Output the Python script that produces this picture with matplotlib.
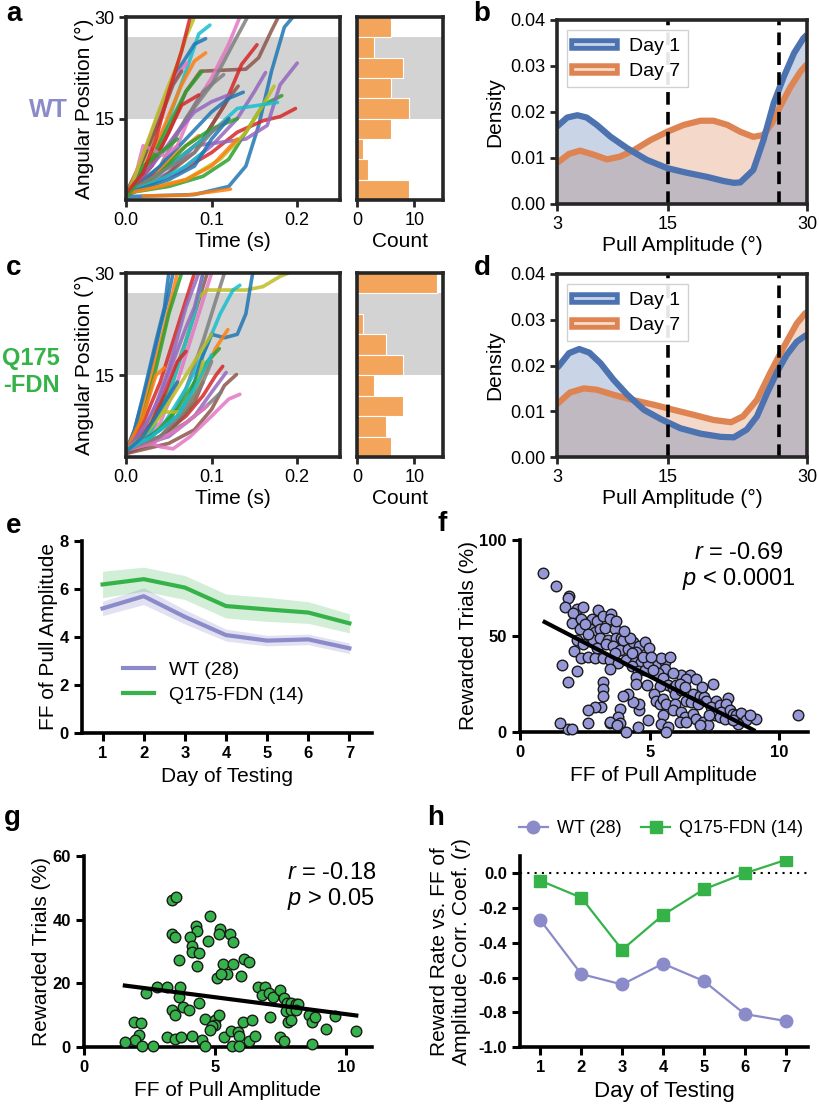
import matplotlib
matplotlib.use("Agg")
import matplotlib.pyplot as plt
from matplotlib.lines import Line2D

plt.rcParams['font.family'] = ['Liberation Sans', 'DejaVu Sans']
plt.rcParams['mathtext.fontset'] = 'custom'
plt.rcParams['mathtext.rm'] = 'Liberation Sans'
plt.rcParams['mathtext.it'] = 'Liberation Sans:italic'

# ---------- data ----------
TAB = ["#1f77b4", "#ff7f0e", "#2ca02c", "#d62728", "#9467bd",
       "#8c564b", "#e377c2", "#7f7f7f", "#bcbd22", "#17becf"]

# panel a: WT pull trajectories, (time s, angle deg)
wt_traces = [
    [(0, 3.5), (0.08, 3.8), (0.12, 5), (0.14, 8), (0.155, 14), (0.17, 22), (0.185, 28.5), (0.195, 30)],
    [(0.02, 3.6), (0.07, 3.7), (0.122, 4.6)],
    [(0, 4), (0.05, 5), (0.09, 6.5), (0.12, 9), (0.14, 13), (0.16, 17), (0.182, 18.4)],
    [(0, 4), (0.06, 7), (0.1, 10), (0.13, 13), (0.16, 14.7), (0.18, 15.3), (0.198, 16.5)],
    [(0, 4), (0.05, 7), (0.08, 11), (0.14, 12), (0.165, 14), (0.18, 20), (0.2, 23.2)],
    [(0, 4), (0.03, 8), (0.05, 13), (0.07, 19), (0.087, 22), (0.14, 22.3), (0.155, 24), (0.17, 28), (0.178, 30)],
    [(0, 3.5), (0.03, 6), (0.06, 11), (0.08, 17), (0.1, 21), (0.12, 26), (0.133, 30)],
    [(0, 3.5), (0.04, 8), (0.07, 15), (0.1, 20), (0.125, 26), (0.142, 30)],
    [(0, 4), (0.02, 8), (0.04, 15), (0.06, 23), (0.07, 27), (0.08, 30)],
    [(0, 3.5), (0.03, 9), (0.05, 15), (0.07, 22), (0.085, 27.5), (0.098, 28.8)],
    [(0, 4), (0.02, 9), (0.04, 16), (0.06, 22), (0.08, 26), (0.093, 26.8)],
    [(0, 3.7), (0.025, 8), (0.045, 14), (0.065, 20), (0.08, 23.5), (0.093, 24.7)],
    [(0, 4), (0.03, 9), (0.05, 14), (0.07, 19), (0.089, 22)],
    [(0, 4), (0.05, 8), (0.09, 12), (0.115, 17), (0.135, 23), (0.153, 25.9)],
    [(0, 4), (0.06, 7), (0.1, 11), (0.13, 15), (0.15, 19), (0.163, 21.8)],
    [(0, 3.6), (0.04, 6), (0.08, 10), (0.105, 15), (0.12, 18), (0.131, 19.8)],
    [(0, 4), (0.015, 8), (0.03, 13), (0.045, 18), (0.06, 21.5), (0.071, 23.2)],
    [(0, 4), (0.02, 7), (0.05, 11), (0.07, 15), (0.09, 19), (0.114, 21.5)],
    [(0, 4), (0.07, 6), (0.11, 9), (0.14, 13), (0.16, 17), (0.173, 19.8)],
    [(0, 3.8), (0.03, 6), (0.07, 10), (0.1, 13), (0.13, 16.5), (0.177, 17.4)],
    [(0, 4), (0.04, 8), (0.07, 12), (0.1, 16), (0.12, 18), (0.137, 18.9)],
    [(0, 3.6), (0.03, 6), (0.06, 10), (0.085, 12.5)],
    [(0, 3.5), (0.04, 7), (0.07, 11), (0.1, 13.5), (0.13, 15)],
    [(0, 3.6), (0.03, 8), (0.05, 13), (0.065, 17), (0.085, 18.5)],
    [(0, 4), (0.03, 8), (0.06, 13), (0.08, 16), (0.1, 17.5), (0.12, 18.5)],
    [(0, 4), (0.02, 9), (0.04, 15), (0.055, 20), (0.065, 22)],
    [(0.01, 6), (0.02, 11), (0.03, 10.5), (0.045, 9.5), (0.06, 11)],
    [(0, 4), (0.04, 7), (0.08, 10), (0.1, 13), (0.12, 15)],
    [(0, 3.5), (0.015, 8), (0.035, 15), (0.05, 20), (0.06, 23)],
    [(0, 4), (0.04, 6), (0.07, 8), (0.09, 10)],
    [(0, 4), (0.05, 6), (0.08, 8), (0.1, 12), (0.12, 15)],
    [(0, 4), (0.04, 5), (0.07, 6), (0.1, 8), (0.13, 12)],
    [(0, 3.4), (0.01, 5), (0.02, 8), (0.04, 10), (0.06, 12)],
    [(0, 4), (0.02, 7), (0.035, 12), (0.05, 19), (0.065, 25), (0.075, 30)],
]

# panel c: Q175-FDN pull trajectories
q175_traces = [
    [(0, 3.5), (0.01, 7), (0.025, 14), (0.04, 22), (0.05, 27), (0.055, 30)],
    [(0, 4), (0.015, 8), (0.03, 15), (0.045, 22), (0.06, 30)],
    [(0, 4), (0.02, 9), (0.035, 16), (0.05, 24), (0.065, 30)],
    [(0, 4), (0.02, 8), (0.04, 14), (0.06, 22), (0.08, 30)],
    [(0, 3.6), (0.03, 9), (0.05, 16), (0.07, 25), (0.085, 30)],
    [(0, 4), (0.03, 8), (0.05, 13), (0.07, 20), (0.085, 26), (0.095, 30)],
    [(0, 3.8), (0.04, 8), (0.06, 14), (0.08, 22), (0.1, 30)],
    [(0, 4), (0.05, 8), (0.07, 13), (0.09, 20), (0.105, 26), (0.115, 30)],
    [(0, 4), (0.03, 7), (0.05, 12), (0.07, 20), (0.085, 26.5), (0.095, 27.5), (0.14, 27.5), (0.16, 28), (0.18, 29.5), (0.19, 30)],
    [(0, 3.5), (0.04, 7), (0.07, 13), (0.09, 18), (0.11, 24), (0.125, 27.5), (0.133, 28.2)],
    [(0, 4), (0.04, 7), (0.06, 9), (0.075, 12), (0.09, 18), (0.1, 21), (0.115, 20.5), (0.13, 21), (0.14, 24), (0.148, 30)],
    [(0, 4), (0.04, 6), (0.07, 10), (0.09, 15), (0.105, 19), (0.119, 21.7)],
    [(0, 3.6), (0.03, 6), (0.06, 10), (0.08, 14), (0.095, 17), (0.109, 18.9)],
    [(0, 4), (0.04, 6), (0.07, 9), (0.09, 12), (0.105, 15), (0.113, 16.3)],
    [(0, 4), (0.05, 6), (0.08, 9), (0.1, 12.5), (0.117, 15.4)],
    [(0, 3.5), (0.05, 5), (0.08, 7), (0.1, 10), (0.115, 13.5), (0.129, 15.1)],
    [(0, 4), (0.02, 5.5), (0.04, 4.5), (0.055, 4.2), (0.075, 6), (0.1, 9), (0.12, 11.5), (0.133, 12.2)],
    [(0, 4), (0.04, 6), (0.07, 8), (0.09, 10), (0.111, 12.5)],
    [(0, 4), (0.02, 6.5), (0.035, 9.6), (0.07, 9.6), (0.08, 12), (0.09, 17)],
    [(0, 4), (0.03, 7), (0.05, 12), (0.065, 18), (0.08, 24), (0.09, 30)],
    [(0, 4), (0.01, 7), (0.02, 12), (0.035, 20), (0.045, 25), (0.05, 30)],
    [(0, 4), (0.02, 9), (0.035, 15), (0.045, 16.1)],
    [(0, 3.7), (0.02, 6), (0.035, 9), (0.045, 12)],
    [(0, 3.8), (0.03, 8), (0.05, 14), (0.06, 17), (0.07, 18.5)],
    [(0, 4), (0.02, 7), (0.04, 12), (0.055, 17), (0.07, 22), (0.08, 25), (0.09, 30)],
    [(0, 3.5), (0.03, 5), (0.06, 8), (0.08, 11), (0.09, 14)],
    [(0, 4), (0.03, 5), (0.06, 7), (0.08, 9), (0.095, 10.5)],
    [(0, 4), (0.04, 6), (0.07, 10), (0.09, 14), (0.1, 17)],
    [(0, 4), (0.02, 6), (0.04, 9), (0.06, 13), (0.08, 17), (0.1, 21)],
    [(0, 4), (0.03, 6), (0.06, 9), (0.08, 13), (0.1, 18)],
    [(0, 3.8), (0.02, 6), (0.04, 10), (0.06, 14)],
]

# histograms of pull amplitude (bins of 3 deg, 3..30)
hist_centers = [28.5, 25.5, 22.5, 19.5, 16.5, 13.5, 10.5, 7.5, 4.5]
wt_counts = [6, 3, 8, 6, 9, 6, 1, 2, 9]
q175_counts = [14, 0, 1, 5, 8, 3, 8, 5, 6]

# panels b/d: density of pull amplitude
b_x1 = [3.0, 3.2, 4.1, 5.2, 6.2, 7.3, 8.8, 10.6, 12.7, 14.9, 17.0, 19.2, 21.0, 22.1, 22.8,
        24.2, 25.3, 26.4, 27.5, 28.6, 29.6, 30.0]
b_y1 = [0.0168, 0.0172, 0.0188, 0.0193, 0.0188, 0.0172, 0.0146, 0.0121, 0.0096, 0.0078, 0.0068,
        0.0059, 0.0050, 0.0046, 0.0047, 0.0074, 0.0139, 0.0219, 0.0277, 0.0328, 0.0360, 0.0368]
b_x7 = [3.0, 3.2, 4.3, 5.5, 7.0, 8.4, 9.8, 11.3, 13.1, 14.9, 16.7, 18.5, 19.9, 21.4, 22.8,
        24.2, 25.3, 26.2, 27.1, 28.2, 29.3, 30.0]
b_y7 = [0.0090, 0.0092, 0.0109, 0.0116, 0.0107, 0.0097, 0.0103, 0.0117, 0.0139, 0.0157, 0.0172,
        0.0181, 0.0181, 0.0172, 0.0157, 0.0146, 0.0150, 0.0175, 0.0212, 0.0254, 0.0288, 0.0304]
d_x1 = [3.0, 3.2, 4.3, 5.4, 6.5, 7.7, 9.1, 10.6, 12.4, 14.2, 16.3, 18.5, 20.7, 22.1, 23.5,
        24.6, 25.7, 26.8, 27.8, 28.9, 29.8, 30.0]
d_y1 = [0.0195, 0.0199, 0.0227, 0.0236, 0.0228, 0.0205, 0.0169, 0.0136, 0.0103, 0.0083, 0.0063,
        0.0051, 0.0044, 0.0043, 0.0060, 0.0089, 0.0140, 0.0187, 0.0223, 0.0252, 0.0265, 0.0267]
d_x7 = [3.0, 3.2, 4.4, 5.9, 7.3, 9.1, 11.3, 13.5, 15.6, 17.8, 19.9, 21.8, 23.1, 24.6, 26.0,
        27.5, 28.9, 29.8, 30.0]
d_y7 = [0.0116, 0.0119, 0.0141, 0.0150, 0.0147, 0.0136, 0.0124, 0.0114, 0.0103, 0.0092, 0.0081,
        0.0076, 0.0089, 0.0125, 0.0183, 0.0241, 0.0292, 0.0314, 0.0316]

# panel e: Fano factor of pull amplitude by day
days = [1, 2, 3, 4, 5, 6, 7]
wt_ff = [5.19, 5.70, 4.84, 4.08, 3.85, 3.90, 3.53]
wt_ff_sem = [0.30, 0.35, 0.30, 0.25, 0.22, 0.22, 0.22]
q_ff = [6.19, 6.41, 6.06, 5.29, 5.15, 5.02, 4.57]
q_ff_sem = [0.55, 0.50, 0.50, 0.50, 0.50, 0.45, 0.40]

# panel f: WT reward vs FF
f_x = [0.9, 1.37, 1.9, 1.85, 1.73, 2.18, 2.44, 2.05, 2.0, 2.37, 2.3, 2.18, 2.1, 2.37, 2.63, 2.88,
       2.2, 1.63, 1.86, 2.76, 3.0, 2.95, 3.2, 3.5, 3.46, 2.69, 2.88, 3.08, 3.27, 3.65, 2.82, 3.08,
       3.4, 3.7, 3.9, 2.95, 3.33, 3.6, 3.85, 3.18, 3.46, 3.78, 3.46, 4.1, 4.17, 4.36, 4.6, 4.49,
       4.8, 4.96, 4.42, 4.68, 4.3, 4.55, 4.8, 4.49, 4.49, 4.9, 4.94, 5.3, 5.58, 5.45, 5.8, 5.58,
       5.3, 5.5, 5.7, 5.38, 5.9, 6.0, 6.2, 6.54, 6.4, 6.8, 5.96, 6.2, 6.67, 6.92, 7.1, 6.4,
       6.6, 7.44, 7.18, 7.56, 8.0, 7.37, 7.7, 7.95, 7.76, 8.1, 7.5, 7.7, 7.9, 8.2, 8.33, 8.5,
       8.7, 9.1, 8.4, 10.7, 5.15, 5.26, 5.38, 5.5, 5.64, 5.96, 5.9, 6.2, 6.35, 6.67, 6.8, 7.05,
       7.24, 6.92, 6.15, 6.4, 5.5, 5.45, 5.7, 5.64, 4.94, 4.55, 4.6, 4.6, 4.36, 4.17, 3.97, 3.85,
       3.78, 3.85, 3.46, 4.1, 3.2, 3.2, 3.2, 3.14, 2.88, 2.63, 2.63, 1.86, 2.0, 1.54, 3.46, 3.72,
       2.5, 2.63, 2.44, 3.7, 3.97, 4.23, 4.0, 3.65, 4.3, 4.74, 5.06, 5.13, 5.9, 6.15, 6.35, 7.0,
       6.86, 7.3, 8.2, 8.85]
f_y = [83, 76, 71, 70, 65, 64, 65, 62, 57, 58.6, 53.6, 48, 42, 38.4, 39, 38.4,
       32, 35, 26, 58.6, 63.8, 57.7, 60.4, 61.3, 58.6, 53.6, 51.9, 53.6, 54.4, 53.6, 48, 49,
       48, 49, 49, 44, 46, 45, 42.6, 38.4, 37.5, 35.8, 33, 37.5, 43.4, 46.9, 45, 41.6,
       46.9, 43.8, 36.7, 36.7, 34.2, 31.6, 32.5, 28.5, 25, 24.3, 35.8, 35.8, 36.7, 38.4, 39.2, 33,
       30.7, 28, 24.4, 23.8, 22.7, 24.4, 29.5, 29.5, 27.7, 27.7, 20, 21.8, 20, 19, 18.2, 16.4,
       15.5, 25.2, 16.4, 16.4, 17.6, 13, 13.9, 14.7, 10.5, 11.4, 8.6, 7.7, 6.8, 9.5, 8.6, 9.9,
       6.4, 6.6, 4.3, 8.6, 20, 16.4, 14.7, 17.4, 14.7, 14.7, 11.2, 10.4, 7.7, 9.5, 6.8, 5.1,
       3.4, 3.4, 5.1, 5.1, 8.6, 4.3, 2.6, 0.2, 6, 2.6, 11.2, 14.7, 15.5, 20, 18.6, 12.1,
       7.7, 4.7, 4.7, 0.2, 26, 22.6, 19, 13, 13, 11.2, 4.7, 1.7, 1.4, 4.7, 5.2, 3.4,
       56, 51, 45.6, 57.7, 48, 49, 52.8, 41, 41, 39, 39, 32.5, 30.7, 25.2, 23.5, 23.5,
       14.7, 8.6, 6, 8.6]
f_fit_x = [0.95, 9.0]
f_fit_y = [57.3, 1.0]

# panel g: Q175-FDN reward vs FF
g_x = [3.37, 3.52, 3.37, 3.47, 3.62, 4.8, 4.26, 4.3, 4.05, 4.11, 4.11, 4.39, 4.3, 4.75, 5.19, 5.15,
       5.57, 5.7, 5.3, 5.69, 6.1, 6.3, 5.09, 5.47, 5.23, 6.0, 2.8, 3.18, 3.66, 3.62, 2.38, 3.37,
       3.47, 3.78, 4.01, 4.39, 4.64, 5.02, 5.15, 5.02, 4.9, 4.81, 1.91, 2.16, 2.1, 1.93, 1.55, 2.2,
       2.63, 3.18, 3.47, 3.69, 4.13, 4.52, 4.64, 5.35, 5.6, 5.9, 5.93, 5.66, 5.92, 6.07, 6.4, 6.3,
       6.55, 6.65, 6.93, 6.8, 7.06, 7.2, 7.12, 7.5, 7.63, 7.76, 7.9, 8.08, 8.18, 7.7, 7.9, 8.08,
       7.8, 7.9, 7.5, 7.65, 8.59, 8.69, 8.84, 8.69, 9.25, 9.6, 10.4]
g_y = [46.2, 47.2, 35.4, 34.7, 27.2, 41.2, 38, 36.3, 34.7, 31.8, 29.7, 29.5, 25.5, 33.4, 37, 35.5,
       35.4, 33.1, 26.1, 26.1, 27.6, 26.6, 21.6, 22.9, 22.9, 22.4, 18.7, 18.7, 18.7, 15.7, 16.9, 11.7,
       9.9, 12.7, 11.5, 13.8, 8.9, 8.6, 10.1, 7, 6.5, 5.2, 8, 7.5, 3.7, 2.3, 1.6, 0.2,
       0.2, 3.1, 2.5, 3.1, 3.3, 2.3, 0.2, 3.0, 4.9, 4.6, 3.3, 0.2, 0.2, 8, 8.6, 1.8,
       3.3, 18.7, 19, 16.2, 16.9, 15.6, 9.3, 18, 15.4, 13.8, 13.8, 13.5, 13.5, 11.2, 11.7, 11.7,
       7.7, 8.6, 3.1, 2, 10.1, 7.7, 9.4, 1, 5.7, 9.6, 4.9]
g_fit_x = [1.56, 10.4]
g_fit_y = [19.3, 9.9]

# panel h: correlation coefficient by day
wt_r = [-0.27, -0.58, -0.64, -0.52, -0.62, -0.81, -0.85]
q_r = [-0.042, -0.14, -0.44, -0.24, -0.092, 0.0, 0.077]

# ---------- styling ----------
W, H = 820, 1105
fig = plt.figure(figsize=(W / 100, H / 100), dpi=100)

WT_C = "#8c8bca"
WT_FILL = "#9597d6"
Q_C = "#35b349"
DAY1_C = "#4c72b0"
DAY7_C = "#dd8452"
BAND_C = "#d3d3d3"
HIST_C = "#f4a55c"
FRAME = "#262626"


def add_ax(l, t, r, b):
    return fig.add_axes([l / W, 1 - b / H, (r - l) / W, (b - t) / H])


def frame_style(ax):
    for s in ax.spines.values():
        s.set_linewidth(2.6)
        s.set_color(FRAME)
    ax.tick_params(direction="out", length=5, width=2, color=FRAME, labelsize=13)


def bold_style(ax):
    for s in ("top", "right"):
        ax.spines[s].set_visible(False)
    for s in ("left", "bottom"):
        ax.spines[s].set_linewidth(2.6)
        ax.spines[s].set_color("black")
    ax.tick_params(direction="out", length=6, width=2.2, labelsize=12)
    plt.setp(ax.get_xticklabels() + ax.get_yticklabels(), fontweight="bold")


def traj_panel(top, bottom, traces, counts):
    ax = add_ax(126, top, 340, bottom)
    ax.axhspan(15, 27, color=BAND_C, zorder=0, lw=0)
    for i, tr in enumerate(traces):
        ts = [p[0] for p in tr]
        ys = [p[1] for p in tr]
        ax.plot(ts, ys, color=TAB[i % 10], lw=2.6, alpha=0.85,
                solid_capstyle="round", solid_joinstyle="round")
    ax.set_xlim(0, 0.25)
    ax.set_ylim(3, 30)
    ax.set_xticks([0, 0.1, 0.2])
    ax.set_xticklabels(["0.0", "0.1", "0.2"])
    ax.set_yticks([15, 30])
    ax.set_xlabel("Time (s)", fontsize=15, labelpad=2)
    ax.set_ylabel("Angular Position (°)", fontsize=15, labelpad=0)
    frame_style(ax)

    hx = add_ax(357, top, 443, bottom)
    hx.axhspan(15, 27, color=BAND_C, zorder=0, lw=0)
    hx.barh(hist_centers, counts, height=3, color=HIST_C, edgecolor="white", lw=0.8)
    hx.set_xlim(0, 15)
    hx.set_ylim(3, 30)
    hx.set_yticks([])
    hx.set_xticks([0, 10])
    hx.set_xlabel("Count", fontsize=15, labelpad=2)
    frame_style(hx)
    return ax, hx


def density_panel(top, bottom, x1, y1, x7, y7):
    ax = add_ax(557, top, 807, bottom)
    ax.fill_between(x7, y7, facecolor=DAY7_C, alpha=0.3, edgecolor=DAY7_C, lw=1.5)
    ax.plot(x7, y7, color=DAY7_C, lw=4.5, solid_capstyle="butt", solid_joinstyle="round")
    ax.fill_between(x1, y1, facecolor=DAY1_C, alpha=0.3, edgecolor=DAY1_C, lw=1.5)
    ax.plot(x1, y1, color=DAY1_C, lw=4.5, solid_capstyle="butt", solid_joinstyle="round")
    for v in (15, 27):
        ax.axvline(v, color="black", lw=2.6, ls=(0, (3.5, 2)))
    ax.set_xlim(3, 30)
    ax.set_ylim(0, 0.04)
    ax.set_xticks([3, 15, 30])
    ax.set_yticks([0, 0.01, 0.02, 0.03, 0.04])
    ax.set_yticklabels(["0.00", "0.01", "0.02", "0.03", "0.04"])
    ax.set_xlabel("Pull Amplitude (°)", fontsize=15, labelpad=2)
    ax.set_ylabel("Density", fontsize=15, labelpad=4)
    frame_style(ax)
    h1 = (Line2D([], [], color=DAY1_C, lw=9), Line2D([], [], color="#c9d3ee", lw=2))
    h7 = (Line2D([], [], color=DAY7_C, lw=9), Line2D([], [], color="#f8dcc8", lw=2))
    ax.legend([h1, h7], ["Day 1", "Day 7"], loc="upper left", fontsize=14,
              handlelength=2.0, borderaxespad=0.5, framealpha=0.9,
              edgecolor="#cccccc", fancybox=False, labelspacing=0.35)
    return ax


# ---------- panels a-d ----------
traj_panel(17, 200, wt_traces, wt_counts)
traj_panel(273, 457, q175_traces, q175_counts)
density_panel(20, 204, b_x1, b_y1, b_x7, b_y7)
density_panel(274, 457, d_x1, d_y1, d_x7, d_y7)

fig.text(48 / W, 1 - 110 / H, "WT", color=WT_C, fontsize=18, fontweight="bold",
         ha="center", va="center")
fig.text(31 / W, 1 - 372 / H, "Q175\n-FDN", color=Q_C, fontsize=17, fontweight="bold",
         ha="center", va="center", linespacing=1.2)

# ---------- panel e ----------
ax = add_ax(82, 541, 372, 733)
lo = [m - s for m, s in zip(wt_ff, wt_ff_sem)]
hi = [m + s for m, s in zip(wt_ff, wt_ff_sem)]
ax.fill_between(days, lo, hi, color=WT_C, alpha=0.25, lw=0)
lo = [m - s for m, s in zip(q_ff, q_ff_sem)]
hi = [m + s for m, s in zip(q_ff, q_ff_sem)]
ax.fill_between(days, lo, hi, color=Q_C, alpha=0.22, lw=0)
ax.plot(days, wt_ff, color=WT_C, lw=3, label="WT (28)")
ax.plot(days, q_ff, color=Q_C, lw=3, label="Q175-FDN (14)")
ax.set_xlim(0.5, 7.55)
ax.set_ylim(0, 8)
ax.set_xticks(days)
ax.set_yticks([0, 2, 4, 6, 8])
ax.set_xlabel("Day of Testing", fontsize=15)
ax.set_ylabel("FF of Pull Amplitude", fontsize=15, labelpad=1)
bold_style(ax)
ax.legend(loc="lower left", bbox_to_anchor=(0.08, 0.06), frameon=False, fontsize=14,
          handlelength=1.6, labelspacing=0.4)

# ---------- panel f ----------
ax = add_ax(520, 540, 808, 732)
ax.scatter(f_x, f_y, s=58, color=WT_FILL, edgecolor="#1a1a1a", lw=1, zorder=3, clip_on=False)
ax.plot(f_fit_x, f_fit_y, color="black", lw=3, zorder=4)
ax.set_xlim(0, 11.1)
ax.set_ylim(0, 100)
ax.set_xticks([0, 5, 10])
ax.set_yticks([0, 50, 100])
ax.set_xlabel("FF of Pull Amplitude", fontsize=15)
ax.set_ylabel("Rewarded Trials (%)", fontsize=15, labelpad=1)
bold_style(ax)
ax.text(0.76, 0.86, "$\\it{r}$ = -0.69\n$\\it{p}$ < 0.0001", transform=ax.transAxes,
        fontsize=17, ha="center", va="center", multialignment="center", linespacing=1.1)

# ---------- panel g ----------
ax = add_ax(84, 856, 372, 1047)
ax.scatter(g_x, g_y, s=58, color="#36b24a", edgecolor="#1a1a1a", lw=1, zorder=3, clip_on=False)
ax.plot(g_fit_x, g_fit_y, color="black", lw=3, zorder=4)
ax.set_xlim(0, 11)
ax.set_ylim(0, 60)
ax.set_xticks([0, 5, 10])
ax.set_yticks([0, 20, 40, 60])
ax.set_xlabel("FF of Pull Amplitude", fontsize=15)
ax.set_ylabel("Rewarded Trials (%)", fontsize=15, labelpad=1)
bold_style(ax)
ax.text(0.705, 0.84, "$\\it{r}$ = -0.18\n$\\it{p}$ > 0.05", transform=ax.transAxes,
        fontsize=17, ha="left", va="center", linespacing=1.1)

# ---------- panel h ----------
ax = add_ax(520, 856, 808, 1047)
ax.axhline(0, color="black", lw=1.5, ls=(0, (1, 2.5)), zorder=1)
ax.plot(days, wt_r, color=WT_C, lw=1.6, marker="o", ms=9, label="WT (28)", zorder=3)
ax.plot(days, q_r, color=Q_C, lw=1.6, marker="s", ms=9, label="Q175-FDN (14)", zorder=3)
ax.set_xlim(0.5, 7.55)
ax.set_ylim(-1.0, 0.1)
ax.set_xticks(days)
ax.set_yticks([0.0, -0.2, -0.4, -0.6, -0.8, -1.0])
ax.set_yticklabels(["0.0", "-0.2", "-0.4", "-0.6", "-0.8", "-1.0"])
ax.set_xlabel("Day of Testing", fontsize=16)
ax.set_ylabel("Reward Rate vs. FF of\nAmplitude Corr. Coef. ($\\it{r}$)", fontsize=15,
              labelpad=4, linespacing=1.05)
bold_style(ax)
ax.legend(loc="lower center", bbox_to_anchor=(0.49, 1.05), ncol=2, frameon=False,
          fontsize=13, handlelength=1.6, handletextpad=0.5, columnspacing=1.1,
          borderaxespad=0.1)

# ---------- panel letters ----------
for lab, x, y in [("a", 14, 14), ("b", 482, 14), ("c", 14, 268), ("d", 482, 268),
                  ("e", 14, 526), ("f", 442, 524), ("g", 12, 818), ("h", 436, 818)]:
    fig.text(x / W, 1 - y / H, lab, fontsize=20, fontweight="bold", ha="center", va="center")

fig.savefig("out.png", dpi=100)
